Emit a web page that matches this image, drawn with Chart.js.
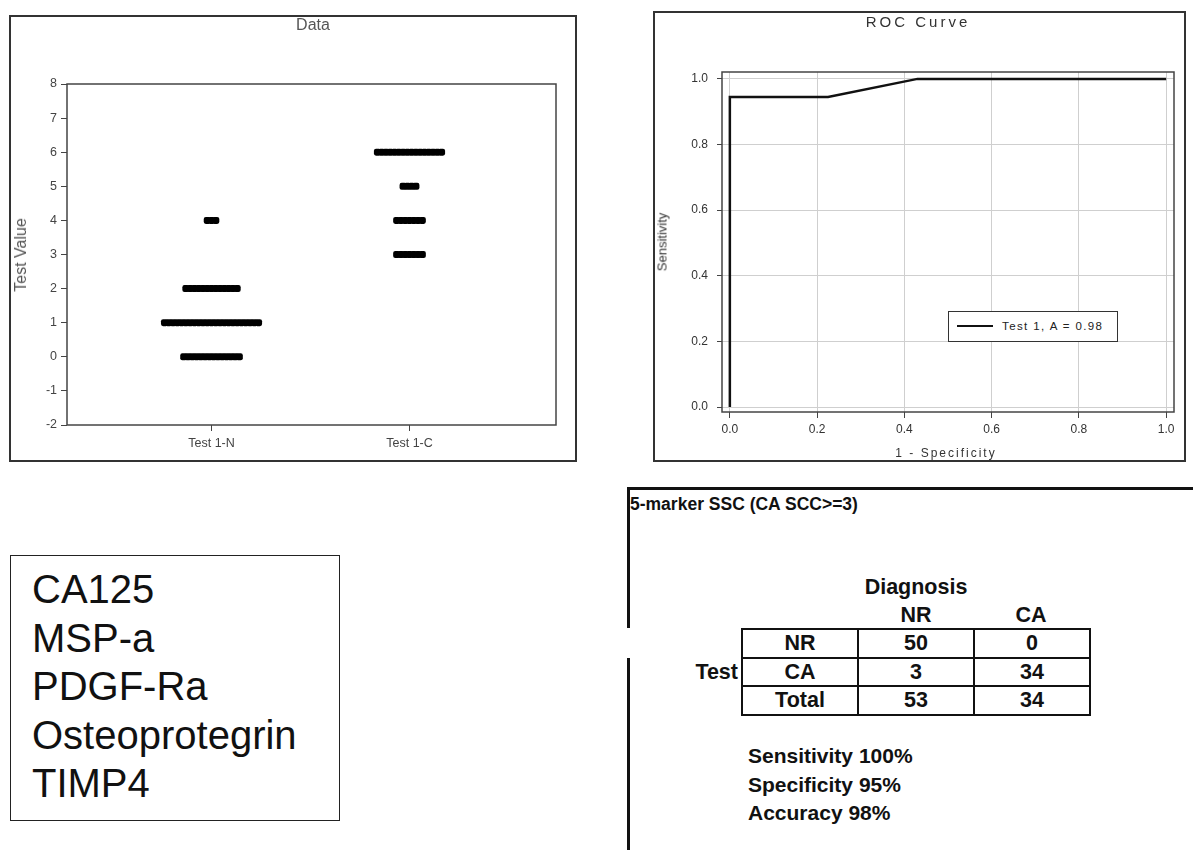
<!DOCTYPE html>
<html>
<head>
<meta charset="utf-8">
<script src="https://cdn.jsdelivr.net/npm/chart.js@4/dist/chart.umd.min.js"></script>
<style>
    body { margin: 0; background: #fff; width: 1193px; height: 850px; position: relative; overflow: hidden;
           font-family: Arial, "Liberation Sans", sans-serif; color: #111; }
    .abs { position: absolute; }
    .box { position: absolute; border: 2px solid #333; box-sizing: border-box; }
    .lbl { position: absolute; white-space: nowrap; }
    .bold { font-weight: bold; font-size: 21.5px; line-height: 22px; }
    #markers { position: absolute; left: 10px; top: 555px; width: 330px; height: 266px; border: 1.5px solid #222;
               box-sizing: border-box; padding: 9px 0 0 21px; font-size: 40px; line-height: 48.5px; }
    #ctable { position: absolute; left: 741px; top: 628px; border-collapse: collapse; }
    #ctable td { border: 2px solid #111; width: 114px; height: 26.5px; padding: 0; text-align: center;
                 font-weight: bold; font-size: 21.5px; line-height: 22px; }
</style>
</head>
<body>

<!-- left: dot plot -->
<div class="box" style="left:9px;top:15px;width:568px;height:447px"></div>
<canvas id="dataChart" class="abs" style="left:9px;top:15px;width:568px;height:447px" width="568" height="447"></canvas>
<div class="lbl" id="dataTitle" style="left:313px;top:25px;transform:translate(-50%,-50%);font-size:16px;color:#555"></div>
<div class="lbl" id="dataYTitle" style="left:21px;top:255px;transform:translate(-50%,-50%) rotate(-90deg);font-size:16px;color:#555"></div>

<!-- right: ROC -->
<div class="box" style="left:653px;top:11px;width:533px;height:451px"></div>
<canvas id="rocChart" class="abs" style="left:653px;top:11px;width:533px;height:451px" width="533" height="451"></canvas>
<div class="lbl" id="rocTitle" style="left:918px;top:21px;transform:translate(-50%,-50%);font-size:15px;letter-spacing:3px;color:#333"></div>
<div class="lbl" id="rocXTitle" style="left:946px;top:453px;transform:translate(-50%,-50%);font-size:12px;letter-spacing:2px;color:#333"></div>
<div class="lbl" id="rocYTitle" style="left:662px;top:242px;transform:translate(-50%,-50%) rotate(-90deg);font-size:13px;color:#333"></div>
<div class="box" style="left:948px;top:311px;width:170px;height:31px;background:#fff;border-width:1.5px"></div>
<div class="abs" style="left:957px;top:325px;width:36px;height:2px;background:#111"></div>
<div class="lbl" id="rocLegend" style="left:1002px;top:326px;transform:translateY(-50%);font-size:11.5px;letter-spacing:1.4px;color:#222"></div>

<!-- bottom left: marker list -->
<div id="markers"></div>

<!-- bottom right: classification table -->
<div class="abs" style="left:627px;top:487px;width:566px;height:3px;background:#111"></div>
<div class="abs" style="left:627px;top:487px;width:3px;height:141px;background:#111"></div>
<div class="abs" style="left:627px;top:658px;width:3px;height:192px;background:#111"></div>
<div class="lbl bold" id="ssTitle" style="left:630px;top:494px;font-size:17.5px;line-height:20px"></div>
<div class="lbl bold" id="diagLabel" style="left:916px;top:587px;transform:translate(-50%,-50%)"></div>
<div class="lbl bold" id="colNR" style="left:916px;top:615px;transform:translate(-50%,-50%)"></div>
<div class="lbl bold" id="colCA" style="left:1031px;top:615px;transform:translate(-50%,-50%)"></div>
<div class="lbl bold" id="testLabel" style="left:738px;top:672px;transform:translate(-100%,-50%)"></div>
<table id="ctable"></table>
<div class="lbl bold" id="stats" style="left:748px;top:742px;line-height:28.5px;font-size:21px"></div>

<script>
// ---- dot plot data ----
const categories = ['Test 1-N', 'Test 1-C'];
const nValues = [0, 1, 2, 4];
const nCounts = [14, 23, 13, 3];
const cValues = [3, 4, 5, 6];
const cCounts = [7, 7, 4, 16];
const dataYTicks = [-2, -1, 0, 1, 2, 3, 4, 5, 6, 7, 8];

// ---- ROC data ----
const rocFpr = [0, 0, 0.225, 0.43, 1.0];
const rocTpr = [0, 0.945, 0.945, 1.0, 1.0];
const rocTicks = [0, 0.2, 0.4, 0.6, 0.8, 1.0];
const rocLabel = 'Test 1, A = 0.98';

// ---- text panels ----
const markers = ['CA125', 'MSP-a', 'PDGF-Ra', 'Osteoprotegrin', 'TIMP4'];
const diagCols = ['NR', 'CA'];
const testRows = ['NR', 'CA', 'Total'];
const tableValues = [[50, 0], [3, 34], [53, 34]];
const statNames = ['Sensitivity', 'Specificity', 'Accuracy'];
const statValues = [100, 95, 98];

const dotStep = 0.0216;   // horizontal spacing of stacked dots, in x units

// one dot per subject, stacked sideways around the category centre
function dotPoints(center, values, counts) {
    const pts = [];
    values.forEach((v, i) => {
        const n = counts[i];
        for (let k = 0; k < n; k++) {
            pts.push({ x: center + (k - (n - 1) / 2) * dotStep, y: v });
        }
    });
    return pts;
}

const framePlugin = {
    id: 'frame',
    beforeDatasetsDraw(chart, args, opts) {
        const { ctx, chartArea: a } = chart;
        ctx.save();
        ctx.strokeStyle = opts.color;
        ctx.lineWidth = opts.width;
        ctx.strokeRect(a.left, a.top, a.right - a.left, a.bottom - a.top);
        ctx.restore();
    }
};

const narrowFont = { family: '"Liberation Sans Narrow", Arial, sans-serif', size: 12.5 };
const rocFont = { family: 'Arial, "Liberation Sans", sans-serif', size: 12 };
const dotStyle = { backgroundColor: '#000', borderWidth: 0, pointRadius: 4.1, pointStyle: 'rectRounded' };

// --- Dot plot ---
new Chart(document.getElementById('dataChart'), {
    type: 'scatter',
    data: {
        datasets: [
            Object.assign({ data: dotPoints(1, nValues, nCounts) }, dotStyle),
            Object.assign({ data: dotPoints(2, cValues, cCounts) }, dotStyle)
        ]
    },
    options: {
        responsive: false,
        animation: false,
        layout: { padding: { left: 0, top: 69, right: 21, bottom: 0 } },
        plugins: { legend: { display: false }, tooltip: { enabled: false }, frame: { color: '#444', width: 1.5 } },
        scales: {
            x: {
                type: 'linear', min: 0.27, max: 2.74,
                afterBuildTicks: s => { s.ticks = categories.map((c, i) => ({ value: i + 1 })); },
                afterFit: s => { s.height = 37; },
                border: { display: false },
                grid: { drawOnChartArea: false, tickLength: 6, tickColor: '#444' },
                ticks: { callback: v => categories[v - 1], font: narrowFont, color: '#444', padding: 5, maxRotation: 0 }
            },
            y: {
                min: -2, max: 8,
                afterBuildTicks: s => { s.ticks = dataYTicks.map(v => ({ value: v })); },
                afterFit: s => { s.width = 58; },
                border: { display: false },
                grid: { drawOnChartArea: false, tickLength: 6, tickColor: '#444' },
                ticks: { font: narrowFont, color: '#444', padding: 4 }
            }
        }
    },
    plugins: [framePlugin]
});

// --- ROC curve ---
new Chart(document.getElementById('rocChart'), {
    type: 'scatter',
    data: {
        datasets: [{
            label: rocLabel,
            data: rocFpr.map((x, i) => ({ x: x, y: rocTpr[i] })),
            showLine: true,
            borderColor: '#111',
            borderWidth: 2.5,
            pointRadius: 0,
            tension: 0
        }]
    },
    options: {
        responsive: false,
        animation: false,
        layout: { padding: { left: 0, top: 61, right: 12, bottom: 0 } },
        plugins: { legend: { display: false }, tooltip: { enabled: false }, frame: { color: '#444', width: 1.5 } },
        scales: {
            x: {
                type: 'linear', min: -0.018, max: 1.018,
                afterBuildTicks: s => { s.ticks = rocTicks.map(v => ({ value: v })); },
                afterFit: s => { s.height = 50; },
                border: { display: false },
                grid: { color: '#cfcfcf', lineWidth: 1, tickLength: 6, tickColor: '#444' },
                ticks: { callback: v => v.toFixed(1), font: rocFont, color: '#333', padding: 4, maxRotation: 0 }
            },
            y: {
                min: -0.015, max: 1.021,
                afterBuildTicks: s => { s.ticks = rocTicks.map(v => ({ value: v })); },
                afterFit: s => { s.width = 69; },
                border: { display: false },
                grid: { color: '#cfcfcf', lineWidth: 1, tickLength: 5, tickColor: '#444' },
                ticks: { callback: v => v.toFixed(1), font: rocFont, color: '#333', padding: 9 }
            }
        }
    },
    plugins: [framePlugin]
});

// --- Text panels ---
document.getElementById('dataTitle').textContent = 'Data';
document.getElementById('dataYTitle').textContent = 'Test Value';
document.getElementById('rocTitle').textContent = 'ROC Curve';
document.getElementById('rocXTitle').textContent = '1 - Specificity';
document.getElementById('rocYTitle').textContent = 'Sensitivity';
document.getElementById('rocLegend').textContent = rocLabel;

document.getElementById('markers').innerHTML = markers.join('<br>');

document.getElementById('ssTitle').textContent = '5-marker SSC (CA SCC>=3)';
document.getElementById('diagLabel').textContent = 'Diagnosis';
document.getElementById('colNR').textContent = diagCols[0];
document.getElementById('colCA').textContent = diagCols[1];
document.getElementById('testLabel').textContent = 'Test';

const table = document.getElementById('ctable');
testRows.forEach((r, i) => {
    const tr = document.createElement('tr');
    [r].concat(tableValues[i]).forEach(v => {
        const td = document.createElement('td');
        td.textContent = v;
        tr.appendChild(td);
    });
    table.appendChild(tr);
});

document.getElementById('stats').innerHTML =
    statNames.map((s, i) => s + ' ' + statValues[i] + '%').join('<br>');
</script>
</body>
</html>
